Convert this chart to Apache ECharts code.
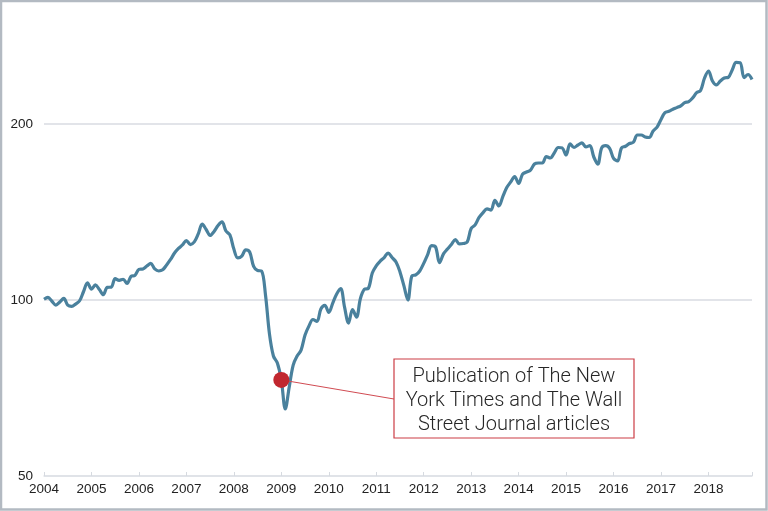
<!DOCTYPE html>
<html>
<head>
<meta charset="utf-8">
<script src="https://cdn.jsdelivr.net/npm/echarts@6/dist/echarts.min.js"></script>
<style>
html,body{margin:0;padding:0;background:#fff;}
#c{width:768px;height:511px;}
</style>
</head>
<body>
<div id="c"></div>
<script>
const years = ['2004','2005','2006','2007','2008','2009','2010','2011','2012','2013','2014','2015','2016','2017','2018'];
const monthNames = ['01','02','03','04','05','06','07','08','09','10','11','12'];
const yTicks = [50, 100, 200];
const indexValues = [
  // 2004
  100.3,101.0,99.5,98.0,99.2,100.6,98.0,97.5,98.4,99.7,103.4,107.0,
  // 2005
  104.4,106.1,104.2,102.1,105.1,105.2,108.8,108.0,108.5,106.7,109.7,110.2,
  // 2006
  112.8,113.0,114.3,115.5,113.0,112.1,112.6,114.8,117.3,120.3,122.5,124.2,
  // 2007
  126.4,124.4,125.7,129.7,134.8,132.0,128.9,131.0,134.1,136.0,131.2,129.2,
  // 2008
  122.2,118.0,118.8,121.8,120.8,114.1,112.3,112.1,102.0,87.5,80.2,78.0,
  // 2009
  73.0,65.1,71.0,77.4,80.2,82.1,87.1,90.3,92.6,91.9,96.5,97.9,
  // 2010
  95.2,98.8,102.4,104.6,97.1,91.3,96.3,93.5,100.6,104.3,104.7,111.2,
  // 2011
  114.4,116.5,118.2,120.3,118.2,116.1,111.7,105.7,100.0,109.9,110.4,112.1,
  // 2012
  115.5,119.6,123.9,123.2,115.8,119.9,122.2,124.4,126.9,124.7,124.9,125.7,
  // 2013
  132.5,134.4,138.4,141.1,143.2,142.5,148.0,144.8,150.3,155.7,159.2,162.6,
  // 2014
  158.2,164.2,165.5,166.8,170.8,171.5,171.5,175.9,174.9,178.4,182.3,182.0,
  // 2015
  177.0,185.0,182.3,184.1,185.6,182.7,183.7,175.6,170.8,182.0,183.6,181.7,
  // 2016
  174.6,172.9,182.0,183.2,185.2,186.1,191.5,191.5,190.0,189.6,194.5,197.6,
  // 2017
  203.6,209.1,210.2,211.9,213.3,214.8,217.6,218.4,221.6,226.2,228.2,239.7,
  // 2018
  246.4,236.9,233.2,236.9,239.7,240.3,247.4,254.8,254.6,240.1,243.0,238.3
];
const eventMonth = '2009-01';
const eventLines = ['Publication of The New', 'York Times and The Wall', 'Street Journal articles'];

const months = [];
years.forEach(y => monthNames.forEach(m => months.push(y + '-' + m)));
const lastIdx = months.length - 1;
const eventIdx = months.indexOf(eventMonth);

const chart = echarts.init(document.getElementById('c'), null, {renderer: 'canvas'});
const boxX = 394, boxY = 359, boxW = 240, boxH = 79;

function makeGraphic(dotPx) {
  return [
    {type: 'rect', z: 0, silent: true, shape: {x: 1, y: 1, width: 765.5, height: 508.5},
     style: {fill: null, stroke: '#b3bac2', lineWidth: 2.5}},
    {type: 'line', z: 5, silent: true,
     shape: {x1: dotPx[0], y1: dotPx[1], x2: boxX, y2: boxY + 40},
     style: {stroke: '#d14b52', lineWidth: 1}},
    {type: 'rect', z: 6, silent: true, shape: {x: boxX, y: boxY, width: boxW, height: boxH},
     style: {fill: '#ffffff', stroke: '#cc3d45', lineWidth: 1.2}},
    {type: 'text', z: 7, silent: true, x: boxX + boxW / 2, y: boxY + boxH / 2 + 2,
     style: {text: eventLines.join('\n'), fill: '#262626', font: '300 20px Roboto',
             align: 'center', verticalAlign: 'middle', lineHeight: 24}}
  ];
}

const option = {
  animation: false,
  backgroundColor: '#ffffff',
  grid: {left: 44, right: 16, top: 21, bottom: 35, containLabel: false},
  xAxis: {
    type: 'category',
    data: months,
    boundaryGap: false,
    axisLine: {lineStyle: {color: '#dfe2e7', width: 1.5}},
    axisTick: {inside: true, length: 4, interval: (i) => i % 12 === 0 || i === lastIdx,
               lineStyle: {color: '#d6dae0', width: 1}},
    axisLabel: {interval: (i) => i % 12 === 0, formatter: (v) => v.slice(0, 4),
                color: '#222222', fontFamily: 'Liberation Sans', fontSize: 13.5, margin: 6},
    splitLine: {show: false}
  },
  yAxis: {
    type: 'log',
    logBase: 2,
    min: 50,
    max: 300,
    axisLine: {show: false},
    axisTick: {show: false, customValues: yTicks},
    axisLabel: {customValues: yTicks, color: '#222222', fontFamily: 'Liberation Sans',
                fontSize: 13.5, margin: 11},
    splitLine: {show: true, lineStyle: {color: '#e2e4e9', width: 2}}
  },
  series: [
    {
      type: 'line',
      data: indexValues,
      smooth: 0.35,
      showSymbol: false,
      lineStyle: {color: '#4a819d', width: 3.2},
      itemStyle: {color: '#4a819d'},
      z: 3
    },
    {
      type: 'scatter',
      data: [[eventMonth, indexValues[eventIdx]]],
      symbolSize: 16,
      itemStyle: {color: '#c1272f', opacity: 1},
      z: 8
    }
  ],
  graphic: makeGraphic([281, 379])
};
chart.setOption(option);
const dotPx = chart.convertToPixel({seriesIndex: 1}, [eventMonth, indexValues[eventIdx]]);
chart.setOption({graphic: makeGraphic(dotPx)}, {replaceMerge: ['graphic']});
</script>
</body>
</html>
